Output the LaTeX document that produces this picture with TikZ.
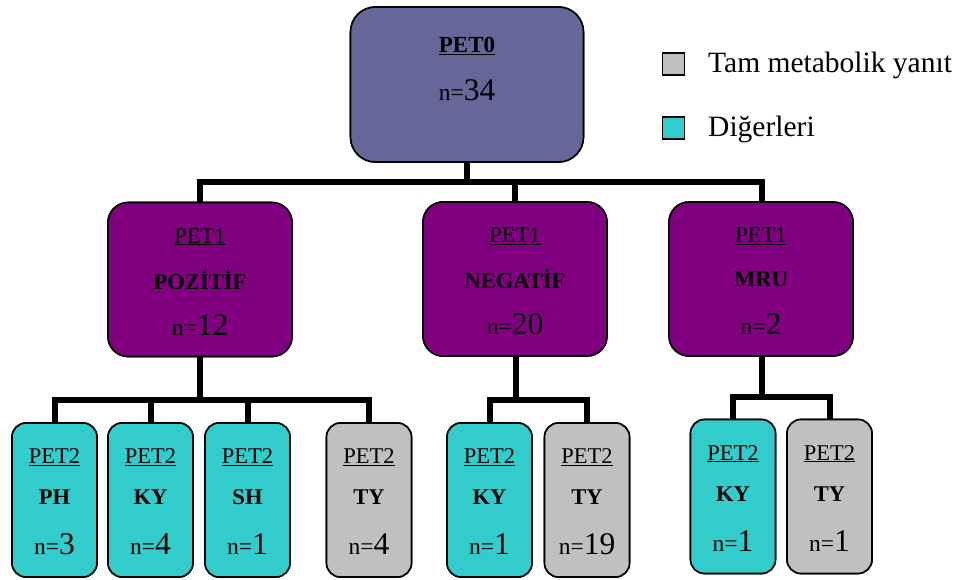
\documentclass[tikz,border=0pt]{standalone}
\usepackage{fontspec}
\setmainfont{Liberation Serif}
\usetikzlibrary{calc}
\definecolor{slatebox}{HTML}{666699}
\definecolor{plumbox}{HTML}{800080}
\definecolor{cyanbox}{HTML}{33CCCC}
\definecolor{greybox}{HTML}{C0C0C0}
\newcommand{\ulab}[1]{\underline{#1}}
\tikzset{
  box/.style={draw=black, line width=1.6pt, inner sep=0pt},
  rootbox/.style={box, fill=slatebox, minimum width=233pt, minimum height=155pt, rounded corners=25pt},
  midbox/.style={box, fill=plumbox, minimum width=184pt, minimum height=154pt, rounded corners=20pt},
  leafbox/.style={box, minimum width=85pt, minimum height=154pt, rounded corners=14pt},
  other/.style={leafbox, fill=cyanbox},
  full/.style={leafbox, fill=greybox},
  conn/.style={draw=black, line width=6pt},
  hd/.style={font=\fontsize{22.5}{24}\selectfont, inner sep=0pt},
  hdb/.style={font=\fontsize{23}{24}\selectfont\bfseries, inner sep=0pt},
  tag/.style={font=\fontsize{22.5}{24}\selectfont\bfseries, inner sep=0pt},
  cnt/.style={inner sep=0pt},
  key/.style={draw=black, line width=1.2pt, minimum size=22pt, inner sep=0pt},
  keytxt/.style={font=\fontsize{29.5}{32}\selectfont, anchor=west, inner sep=0pt}
}
\newcommand{\nval}[1]{{\fontsize{23.5}{26}\selectfont n=}{\fontsize{31.5}{32}\selectfont #1}}
\begin{document}
\begin{tikzpicture}[x=1pt,y=-1pt]
\useasboundingbox (0,0) rectangle (964,580);

% branch points of the tree
\coordinate (j0) at (467,182);
\coordinate (ja) at (200,400);
\coordinate (jb) at (516,400);
\coordinate (jc) at (762,397);

% node positions (placed first so connectors can refer to them)
\path node[rootbox] (p0) at (467,84.5) {}
      node[midbox] (pa) at (200,279.5) {}
      node[midbox] (pb) at (515,279) {}
      node[midbox] (pc) at (761,279) {}
      node[leafbox] (a1) at (54.5,500) {}
      node[leafbox] (a2) at (150.5,500) {}
      node[leafbox] (a3) at (247.5,500) {}
      node[leafbox] (a4) at (369,500) {}
      node[leafbox] (b1) at (489.5,500) {}
      node[leafbox] (b2) at (587,500) {}
      node[leafbox] (c1) at (733,496.5) {}
      node[leafbox] (c2) at (829.5,496.5) {};

% connectors
\path[conn] (p0.south) -- (j0);
\path[conn] (j0) -| (pa.north);
\path[conn] (j0) -| (pb.north);
\path[conn] (j0) -| ([xshift=1pt]pc.north);
\path[conn] (pa.south) -- (ja);
\path[conn] (ja) -| (a1.north);
\path[conn] (ja) -| (a2.north);
\path[conn] (ja) -| (a3.north);
\path[conn] (ja) -| (a4.north);
\path[conn] ([xshift=1pt]pb.south) -- (jb);
\path[conn] (jb) -| (b1.north);
\path[conn] (jb) -| (b2.north);
\path[conn] ([xshift=1pt]pc.south) -- (jc);
\path[conn] (jc) -| (c1.north);
\path[conn] (jc) -| (c2.north);

% boxes drawn over the connector ends
\node[rootbox] at (p0) {};
\node[midbox] at (pa) {};
\node[midbox] at (pb) {};
\node[midbox] at (pc) {};
\node[other] at (a1) {};
\node[other] at (a2) {};
\node[other] at (a3) {};
\node[full]  at (a4) {};
\node[other] at (b1) {};
\node[full]  at (b2) {};
\node[other] at (c1) {};
\node[full]  at (c2) {};

% root text
\node[hdb] (p0h) at ($(p0.north)+(0,40)$) {\ulab{PET0}};
\node[cnt] (p0n) at ($(p0.north)+(0,84)$) {\nval{34}};

% second-level text
\node[hd] (pah) at ($(pa.north)+(0,35)$) {\ulab{PET1}};
\node[tag] (pat) at ($(pa.north)+(0,78)$) {POZİTİF};
\node[cnt] (pan) at ($(pa.north)+(0,123)$) {\nval{12}};
\node[hd] (pbh) at ($(pb.north)+(0,35)$) {\ulab{PET1}};
\node[tag] (pbt) at ($(pb.north)+(0,78)$) {NEGATİF};
\node[cnt] (pbn) at ($(pb.north)+(0,123)$) {\nval{20}};
\node[hd] (pch) at ($(pc.north)+(0,35)$) {\ulab{PET1}};
\node[tag] (pct) at ($(pc.north)+(0,78)$) {MRU};
\node[cnt] (pcn) at ($(pc.north)+(0,123)$) {\nval{2}};

% leaf text
\foreach \b/\t/\n in {a1/PH/3, a2/KY/4, a3/SH/1, a4/TY/4, b1/KY/1, b2/TY/19, c1/KY/1, c2/TY/1}{
  \node[hd] (\b h) at ($(\b.north)+(0,35)$) {\ulab{PET2}};
  \node[tag] (\b t) at ($(\b.north)+(0,75)$) {\t};
  \node[cnt] (\b n) at ($(\b.north)+(0,122)$) {\nval{\n}};
}

% legend
\node[key, fill=greybox] (k1) at (673.5,64) {};
\node[keytxt] (k1t) at (708,65) {Tam metabolik yanıt};
\node[key, fill=cyanbox] (k2) at (673.5,128) {};
\node[keytxt] (k2t) at (708,129) {Diğerleri};
\end{tikzpicture}
\end{document}
